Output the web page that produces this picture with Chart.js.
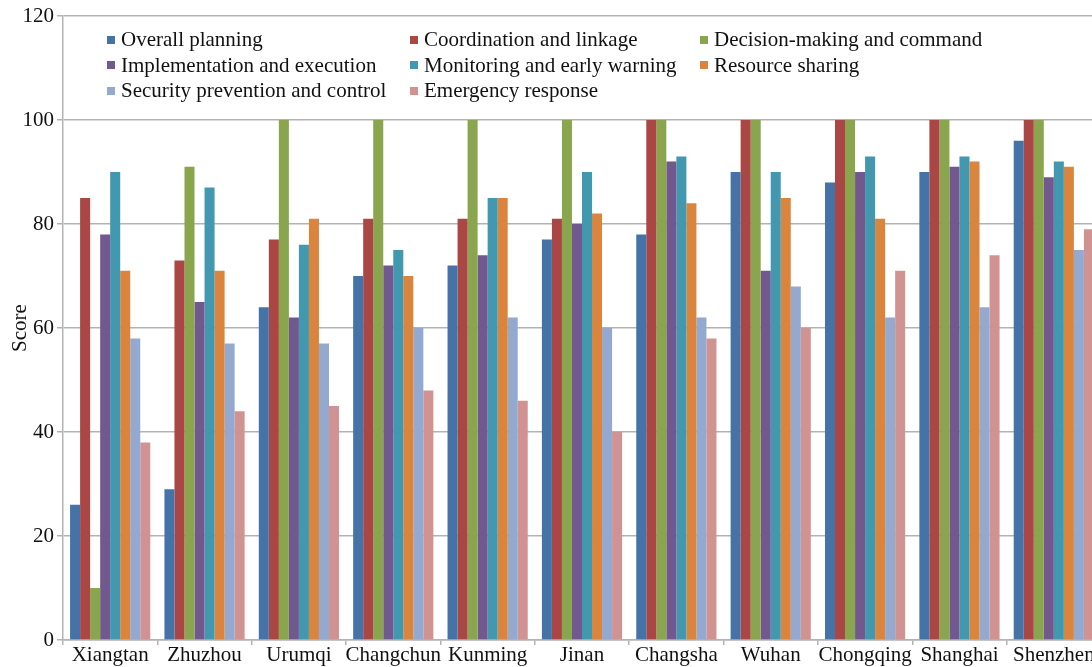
<!DOCTYPE html>
<html>
<head>
<meta charset="utf-8">
<script src="https://cdn.jsdelivr.net/npm/chart.js@4.4.1/dist/chart.umd.min.js"></script>
<style>
  html, body { margin: 0; padding: 0; background: #fff; overflow: hidden; }
  #wrap { position: relative; width: 1110px; height: 667px; }
  #leyenda {
    position: absolute; left: 107px; top: 27px;
    display: grid; grid-template-columns: 303px 290px auto; grid-auto-rows: 25.5px;
    font-family: "Liberation Serif", serif; font-size: 21px; color: #111;
  }
  #leyenda div { display: flex; align-items: center; white-space: nowrap; }
  #leyenda span.caja { width: 8px; height: 8px; margin-right: 6px; display: inline-block; }
</style>
</head>
<body>
<div id="wrap">
  <canvas id="puntajes"></canvas>
  <div id="leyenda"></div>
</div>
<script>
// ciudades (eje x)
const ciudades = ["Xiangtan", "Zhuzhou", "Urumqi", "Changchun", "Kunming", "Jinan", "Changsha", "Wuhan", "Chongqing", "Shanghai", "Shenzhen"];

// puntajes por dimension
const overallPlanning = [26, 29, 64, 70, 72, 77, 78, 90, 88, 90, 96];
const coordination = [85, 73, 77, 81, 81, 81, 100, 100, 100, 100, 100];
const decisionMaking = [10, 91, 100, 100, 100, 100, 100, 100, 100, 100, 100];
const implementation = [78, 65, 62, 72, 74, 80, 92, 71, 90, 91, 89];
const monitoring = [90, 87, 76, 75, 85, 90, 93, 90, 93, 93, 92];
const resourceSharing = [71, 71, 81, 70, 85, 82, 84, 85, 81, 92, 91];
const securityPrevention = [58, 57, 57, 60, 62, 60, 62, 68, 62, 64, 75];
const emergencyResponse = [38, 44, 45, 48, 46, 40, 58, 60, 71, 74, 79];

const yTicks = [0, 20, 40, 60, 80, 100, 120];

const series = [
    { label: "Overall planning", data: overallPlanning, color: "#4572a7" },
    { label: "Coordination and linkage", data: coordination, color: "#aa4643" },
    { label: "Decision-making and command", data: decisionMaking, color: "#89a54e" },
    { label: "Implementation and execution", data: implementation, color: "#71588f" },
    { label: "Monitoring and early warning", data: monitoring, color: "#4198af" },
    { label: "Resource sharing", data: resourceSharing, color: "#db843d" },
    { label: "Security prevention and control", data: securityPrevention, color: "#93a9cf" },
    { label: "Emergency response", data: emergencyResponse, color: "#d19392" },
];

const fuente = { family: "'Liberation Serif', serif", size: 21 };
const gris = "#b3b3b3";

new Chart(document.getElementById("puntajes"), {
    type: "bar",
    data: {
        labels: ciudades,
        datasets: series.map((s) => ({
            label: s.label,
            data: s.data,
            backgroundColor: s.color,
            borderWidth: 0,
            categoryPercentage: 0.85,
            barPercentage: 1,
        })),
    },
    options: {
        responsive: true,
        maintainAspectRatio: false,
        animation: false,
        layout: { padding: { top: 16, right: 9, left: 0, bottom: 0 } },
        plugins: { legend: { display: false }, tooltip: { enabled: false } },
        scales: {
            x: {
                grid: { drawOnChartArea: false, drawTicks: true, tickLength: 5, color: gris, lineWidth: 1.5 },
                border: { color: gris, width: 1.5 },
                ticks: { font: fuente, color: "#111", padding: -2, maxRotation: 0, autoSkip: false },
                afterFit: (scale) => { scale.height = 27; },
            },
            y: {
                min: 0,
                max: 120,
                afterBuildTicks: (scale) => { scale.ticks = yTicks.map((v) => ({ value: v })); },
                grid: { color: gris, lineWidth: 1.5, tickLength: 6 },
                border: { color: gris, width: 1.5 },
                ticks: { font: fuente, color: "#111", padding: 3 },
                title: { display: true, text: "Score", font: fuente, color: "#111", padding: { top: 8, bottom: 4 } },
                afterFit: (scale) => { scale.width = 63; },
            },
        },
    },
});

// leyenda en html dentro del area del grafico
const leyenda = document.getElementById("leyenda");
series.forEach((s) => {
    const item = document.createElement("div");
    item.innerHTML = '<span class="caja" style="background:' + s.color + '"></span>' + s.label;
    leyenda.appendChild(item);
});
</script>
</body>
</html>
